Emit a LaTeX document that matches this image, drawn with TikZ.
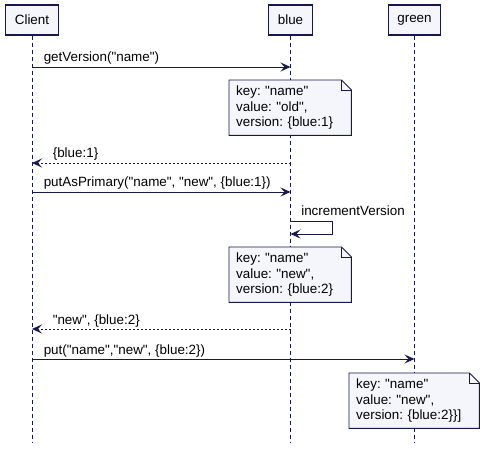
\documentclass[tikz,border=0pt]{standalone}
\usepackage{fontspec}
\setmainfont{Liberation Sans}[Ligatures=TeXOff]
\usetikzlibrary{arrows.meta, positioning}
\definecolor{Navy}{HTML}{181850}
\definecolor{PaleBlue}{HTML}{F4F6FC}
\frenchspacing

\begin{document}
\begin{tikzpicture}[x=1pt, y=-1pt,
  every node/.style={font=\fontsize{13.4}{15.5}\selectfont, text=black},
  actor/.style={draw=Navy, fill=PaleBlue, line width=1.2pt, minimum height=30pt, inner xsep=9pt},
  lifeline/.style={draw=Navy, dash pattern=on 4pt off 3pt, line width=0.8pt},
  msg/.style={draw=Navy, line width=0.9pt, -{Stealth[length=10pt, width=9pt, inset=4pt]}},
  reply/.style={msg, dash pattern=on 2pt off 2pt},
  lbl/.style={anchor=base west, yshift=5pt},
  note/.style={fill=PaleBlue, align=left, inner xsep=7pt, minimum height=55pt, anchor=north west},
  fold/.style={draw=Navy, line width=0.9pt}
]
\useasboundingbox (0,0) rectangle (485,449);

% participants and lifelines
\node[actor] (client) at (32,20) {Client};
\node[actor] (blue) at (290.5,20) {blue};
\node[actor] (green) at (414.5,20) {green};
\coordinate (client end) at (32,442);
\coordinate (blue end) at (290.5,442);
\coordinate (green end) at (414.5,442);
\draw[lifeline] (client) -- (client end);
\draw[lifeline] (blue) -- (blue end);
\draw[lifeline] (green) -- (green end);

% message rows
\coordinate (getv) at (0,67);
\coordinate (ret1) at (0,163);
\coordinate (putp) at (0,192);
\coordinate (incr) at (0,221);
\coordinate (incr back) at (0,234);
\coordinate (ret2) at (0,329);
\coordinate (put) at (0,359);

\draw[msg] (client |- getv) -- node[lbl, pos=0, xshift=8pt] {getVersion("name")} (blue |- getv);
\node[note, text width=108pt] (note1) at (229,80) {key: "name"\\value: "old",\\version: \{blue:1\}};
\draw[reply] (blue |- ret1) -- node[lbl, pos=1, xshift=17pt] {\{blue:1\}} (client |- ret1);
\draw[msg] (client |- putp) -- node[lbl, pos=0, xshift=8pt] {putAsPrimary("name", "new", \{blue:1\})} (blue |- putp);
\draw[msg] (blue |- incr) -- node[lbl, pos=0, xshift=7pt] {incrementVersion} ++(42,0) |- (blue |- incr back);
\node[note, text width=108pt] (note2) at (229,247) {key: "name"\\value: "new",\\version: \{blue:2\}};
\draw[reply] (blue |- ret2) -- node[lbl, pos=1, xshift=17pt] {"new", \{blue:2\}} (client |- ret2);
\draw[msg] (client |- put) -- node[lbl, pos=0, xshift=8pt] {put("name","new", \{blue:2\})} (green |- put);
\node[note, text width=116pt] (note3) at (349,373) {key: "name"\\value: "new",\\version: \{blue:2\}\}]};

% folded corners
\foreach \n in {note1, note2, note3} {
  \fill[white] ([xshift=-10pt]\n.north east) -- (\n.north east) -- ([yshift=-10pt]\n.north east) -- cycle;
  \draw[fold] (\n.south west) -- (\n.north west) -- ([xshift=-10pt]\n.north east)
    -- ([yshift=-10pt]\n.north east) -- (\n.south east) -- cycle;
  \draw[fold] ([xshift=-10pt]\n.north east) |- ([yshift=-10pt]\n.north east);
}
\end{tikzpicture}
\end{document}
